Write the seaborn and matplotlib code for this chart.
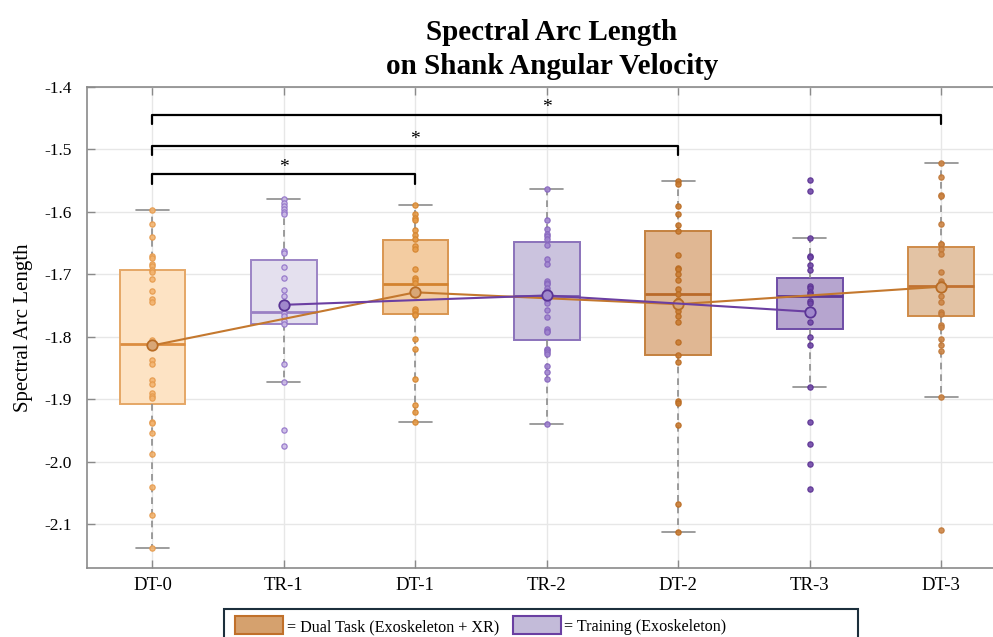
import numpy as np
import pandas as pd
import matplotlib
matplotlib.use("Agg")
import matplotlib.pyplot as plt
import seaborn as sns
from matplotlib.patches import Rectangle

# ---------------- data ----------------
categories = ["DT-0", "TR-1", "DT-1", "TR-2", "DT-2", "TR-3", "DT-3"]

dt0_points = [-1.598, -1.619, -1.640, -1.671, -1.674, -1.683, -1.687, -1.694, -1.696, -1.708,
              -1.727, -1.740, -1.745, -1.805, -1.838, -1.844, -1.870, -1.876, -1.890, -1.895,
              -1.898, -1.936, -1.938, -1.954, -1.988, -2.041, -2.085, -2.138]
tr1_points = [-1.579, -1.586, -1.591, -1.595, -1.600, -1.604, -1.663, -1.666, -1.689, -1.706,
              -1.725, -1.735, -1.762, -1.767, -1.775, -1.780, -1.843, -1.872, -1.950, -1.975]
dt1_points = [-1.590, -1.604, -1.610, -1.614, -1.630, -1.638, -1.643, -1.655, -1.659, -1.692,
              -1.706, -1.710, -1.714, -1.755, -1.759, -1.763, -1.765, -1.804, -1.819, -1.868,
              -1.910, -1.921, -1.936]
tr2_points = [-1.563, -1.614, -1.627, -1.635, -1.639, -1.643, -1.654, -1.675, -1.683, -1.711,
              -1.714, -1.716, -1.722, -1.727, -1.742, -1.746, -1.758, -1.768, -1.787, -1.791,
              -1.793, -1.819, -1.821, -1.824, -1.828, -1.847, -1.856, -1.867, -1.939]
dt2_points = [-1.551, -1.555, -1.591, -1.603, -1.622, -1.631, -1.670, -1.690, -1.692, -1.700,
              -1.710, -1.724, -1.732, -1.742, -1.759, -1.767, -1.777, -1.809, -1.829, -1.841,
              -1.903, -1.906, -1.942, -2.067, -2.112]
tr3_points = [-1.550, -1.567, -1.642, -1.671, -1.672, -1.685, -1.694, -1.719, -1.722, -1.729,
              -1.731, -1.743, -1.746, -1.776, -1.800, -1.813, -1.881, -1.937, -1.971, -2.003,
              -2.043]
dt3_points = [-1.522, -1.544, -1.574, -1.575, -1.619, -1.651, -1.652, -1.659, -1.667, -1.697,
              -1.711, -1.714, -1.735, -1.745, -1.760, -1.763, -1.781, -1.784, -1.804, -1.814,
              -1.823, -1.897, -2.109]

# box statistics per category
box_whislo = [-2.138, -1.872, -1.936, -1.939, -2.112, -1.881, -1.897]
box_q1     = [-1.907, -1.780, -1.764, -1.806, -1.829, -1.788, -1.767]
box_median = [-1.812, -1.760, -1.715, -1.735, -1.732, -1.735, -1.719]
box_q3     = [-1.693, -1.677, -1.645, -1.649, -1.631, -1.706, -1.657]
box_whishi = [-1.598, -1.579, -1.590, -1.563, -1.551, -1.642, -1.522]

dt_sessions = ["DT-0", "DT-1", "DT-2", "DT-3"]
dt_means = [-1.814, -1.729, -1.748, -1.720]
tr_sessions = ["TR-1", "TR-2", "TR-3"]
tr_means = [-1.749, -1.734, -1.760]

comparisons = [("DT-0", "DT-1"), ("DT-0", "DT-2"), ("DT-0", "DT-3")]
bracket_levels = [-1.540, -1.495, -1.445]

yticks = [-2.1, -2.0, -1.9, -1.8, -1.7, -1.6, -1.5, -1.4]

# ---------------- styles ----------------
box_fill = ["#fde3c4", "#e4e0ee", "#f3cca1", "#cbc3de", "#e0b793", "#b6a5cf", "#e3c3a4"]
box_edge = ["#e5a766", "#9c84c5", "#d99651", "#8b72bb", "#c4813f", "#6e4ca6", "#cf8b49"]
median_col = ["#dc8d40", "#9a80c4", "#d3832f", "#7a5bad", "#b96a2a", "#5d3796", "#c27231"]
pt_face = ["#f3b470", "#cbbbe6", "#e69b48", "#a084cf", "#c97b31", "#7047a8", "#cd8545"]
pt_edge = ["#e59a4c", "#9273c8", "#d5852f", "#8766be", "#b96b22", "#5b3292", "#bf7737"]

W, H = 993, 637
sns.set_theme(style="whitegrid")
plt.rcParams["font.family"] = ["Liberation Serif", "DejaVu Serif"]
plt.rcParams["axes.unicode_minus"] = False

fig = plt.figure(figsize=(W / 100, H / 100), dpi=100)
fig.patch.set_facecolor("white")
ax = fig.add_axes([86.7 / W, 1 - 568.3 / H, (1007 - 86.7) / W, (568.3 - 86.7) / H])
ax.set_facecolor("white")

# boxes (five-number summaries -> seaborn boxplot)
box_df = pd.DataFrame({
    "session": np.repeat(categories, 5),
    "value": np.column_stack([box_whislo, box_q1, box_median, box_q3, box_whishi]).ravel(),
})
for i, cat in enumerate(categories):
    sns.boxplot(data=box_df[box_df["session"] == cat], x="session", y="value",
                order=categories, ax=ax, width=0.5, whis=100, showfliers=False,
                color=box_fill[i], saturation=1, linecolor=box_edge[i], linewidth=1.4,
                whiskerprops=dict(color="#8c8c8c", linestyle=(0, (4, 3)), linewidth=1.2),
                capprops=dict(color="#8c8c8c", linewidth=1.2),
                medianprops=dict(color=median_col[i], linewidth=2.0))

# individual points
point_sets = [dt0_points, tr1_points, dt1_points, tr2_points, dt2_points, tr3_points, dt3_points]
for i, cat in enumerate(categories):
    sub = pd.DataFrame({"session": cat, "value": point_sets[i]})
    sns.stripplot(data=sub, x="session", y="value", order=categories, ax=ax,
                  jitter=False, size=3.8, color=pt_face[i], edgecolor=pt_edge[i],
                  linewidth=0.9, alpha=0.9, zorder=3)


def xc(c):
    return c if ax.xaxis.have_units() else categories.index(c)


# mean lines
sns.lineplot(x=[xc(c) for c in dt_sessions], y=dt_means, ax=ax, sort=False,
             color="#c4782e", linewidth=1.5, marker="o", markersize=7.5,
             markerfacecolor="#d8a676", markeredgecolor="#b86c25", markeredgewidth=1.3, zorder=5)
sns.lineplot(x=[xc(c) for c in tr_sessions], y=tr_means, ax=ax, sort=False,
             color="#6b3fa2", linewidth=1.5, marker="o", markersize=7.5,
             markerfacecolor="#a088cc", markeredgecolor="#5a3495", markeredgewidth=1.3, zorder=5)

# significance brackets
drop = 0.015
for (a, b), lvl in zip(comparisons, bracket_levels):
    ia, ib = categories.index(a), categories.index(b)
    ax.plot([xc(a), xc(a), xc(b), xc(b)], [lvl - drop, lvl, lvl, lvl - drop],
            color="black", lw=1.6, zorder=6, clip_on=False)
    ax.text(xc(categories[(ia + ib) // 2]), lvl + 0.004, "*", ha="center", va="baseline",
            fontsize=14, color="black", zorder=6)

# axes styling
ax.set_xlim(-0.5, 6.5)
ax.set_ylim(-2.1706, -1.4)
ax.set_yticks(yticks)
ax.set_yticklabels([f"{v:.1f}" for v in yticks])
ax.set_xlabel("")
ax.set_ylabel("Spectral Arc Length", fontsize=15, color="black")
ax.yaxis.set_label_coords(-0.0583, 0.5)
ax.grid(True, color="#e7e7e7", lw=1)
ax.set_axisbelow(True)
for s in ["left", "top", "bottom"]:
    ax.spines[s].set_visible(True)
    ax.spines[s].set_color("#8a8a8a")
    ax.spines[s].set_linewidth(1.2)
ax.spines["right"].set_visible(False)
ax.tick_params(axis="x", direction="in", bottom=True, top=True, length=5.8, width=1,
               color="#8a8a8a", labelsize=13.5, pad=6, labelcolor="black")
ax.tick_params(axis="y", direction="in", left=True, right=False, length=5.8, width=1,
               color="#8a8a8a", labelsize=12.5, pad=10.5, labelcolor="black")

# title
fig.text(552 / W, 1 - 19 / H, "Spectral Arc Length\non Shank Angular Velocity",
         ha="center", va="top", fontsize=21, fontweight="bold", linespacing=1.34, color="black")


# legend (drawn manually to match layout)
def fx(x):
    return x / W


def fy(y):
    return 1 - y / H


fig.add_artist(Rectangle((fx(224), fy(650)), fx(858) - fx(224), fy(609.3) - fy(650),
                         transform=fig.transFigure, facecolor="white", edgecolor="#1c2f3c",
                         linewidth=1.5))
fig.add_artist(Rectangle((fx(235), fy(634.3)), fx(283.3) - fx(235), fy(615.7) - fy(634.3),
                         transform=fig.transFigure, facecolor="#d5a16e", edgecolor="#c0702a",
                         linewidth=1.5))
fig.add_artist(Rectangle((fx(512.7), fy(634.3)), fx(560.7) - fx(512.7), fy(615.7) - fy(634.3),
                         transform=fig.transFigure, facecolor="#c3bbd9", edgecolor="#6a3fa2",
                         linewidth=1.5))
fig.text(fx(287), fy(625), "= Dual Task (Exoskeleton + XR)", ha="left", va="center_baseline",
         fontsize=11.6, color="black")
fig.text(fx(564), fy(625), "= Training (Exoskeleton)", ha="left", va="center_baseline",
         fontsize=11.6, color="black")

fig.savefig("out.png", dpi=100, facecolor="white")
